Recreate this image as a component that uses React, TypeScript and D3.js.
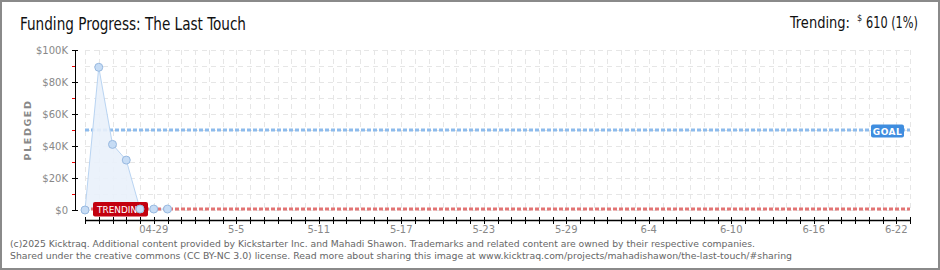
import React from "react";
import * as d3 from "d3";

const W = 940;
const H = 270;

const dates = ["2025-04-24", "2025-04-25", "2025-04-26", "2025-04-27", "2025-04-28", "2025-04-29", "2025-04-30"];
const pledged = [0, 89200, 41000, 31200, 600, 600, 610];
const goal = 50000;
const trending = 610;
const domainDates = ["2025-04-24", "2025-06-23"];
const xLabelDates = ["2025-04-29", "2025-05-05", "2025-05-11", "2025-05-17", "2025-05-23", "2025-05-29", "2025-06-04", "2025-06-10", "2025-06-16", "2025-06-22"];
const xLabels = ["04-29", "5-5", "5-11", "5-17", "5-23", "5-29", "6-4", "6-10", "6-16", "6-22"];
const yMajor = [0, 20000, 40000, 60000, 80000, 100000];
const yLabels = ["$0", "$20K", "$40K", "$60K", "$80K", "$100K"];
const yMinor = [10000, 30000, 50000, 70000, 90000];

const title = "Funding Progress: The Last Touch";
const footer1 = "(c)2025 Kicktraq. Additional content provided by Kickstarter Inc. and Mahadi Shawon. Trademarks and related content are owned by their respective companies.";
const footer2 = "Shared under the creative commons (CC BY-NC 3.0) license. Read more about sharing this image at www.kicktraq.com/projects/mahadishawon/the-last-touch/#sharing";

const parse = d3.utcParse("%Y-%m-%d");

export default function App() {
  const x = d3.scaleUtc().domain(domainDates.map((d) => parse(d)!)).range([85, 910]);
  const y = d3.scaleLinear().domain([0, 100000]).range([210, 50]);
  const days = d3.utcDay.range(parse(domainDates[0])!, d3.utcDay.offset(parse(domainDates[1])!, 1));
  const yGrid = d3.range(0, 100001, 10000);
  const pts = dates.map((d, i) => ({ d: parse(d)!, v: pledged[i] }));
  const area = d3.area<any>().x((p) => x(p.d)).y0(y(0)).y1((p) => y(p.v))(pts) || "";
  const line = d3.line<any>().x((p) => x(p.d)).y((p) => y(p.v))(pts) || "";
  const pix = "'DejaVu Sans', sans-serif";
  const head = "'Liberation Sans Narrow','DejaVu Sans Condensed',Roboto,sans-serif";
  const x0 = x.range()[0];
  const x1 = x.range()[1];

  return (
    <svg width={W} height={H} style={{ position: "absolute", left: 0, top: 0, background: "#fff" }}>
      <rect x={1} y={1} width={W - 2} height={H - 2} fill="#fff" stroke="#8a8a8a" strokeWidth={2} />
      <text x={20} y={30} fontFamily={head} fontWeight={300} fontSize={17} fill="#111" textLength={226} lengthAdjust="spacingAndGlyphs">{title}</text>
      <text x={790} y={28} fontFamily={head} fontWeight={300} fontSize={15.5} fill="#111" textLength={60} lengthAdjust="spacingAndGlyphs">Trending:</text>
      <text x={857} y={21} fontFamily={head} fontWeight={300} fontSize={9} fill="#111">$</text>
      <text x={866} y={28} fontFamily={head} fontWeight={300} fontSize={15.5} fill="#111" textLength={52} lengthAdjust="spacingAndGlyphs">610 (1%)</text>

      {/* grid */}
      {days.map((d, i) => (
        <line key={"vg" + i} x1={Math.round(x(d)) + 0.5} x2={Math.round(x(d)) + 0.5} y1={50} y2={210} stroke="#e6e6e6" strokeDasharray="5 4" />
      ))}
      {yGrid.map((v, i) => (
        <line key={"hg" + i} x1={x0} x2={x1} y1={y(v) + 0.5} y2={y(v) + 0.5} stroke="#e6e6e6" strokeDasharray="5 4" />
      ))}

      {/* y axis */}
      <line x1={75.5} x2={75.5} y1={50} y2={210} stroke="#000" />
      {yMajor.map((v, i) => (
        <g key={"ym" + i}>
          <line x1={72} x2={78} y1={y(v) + 0.5} y2={y(v) + 0.5} stroke="#000" />
          <text x={68} y={y(v) + 3.5} textAnchor="end" fontFamily={pix} fontSize={10} fill="#888">{yLabels[i]}</text>
        </g>
      ))}
      {yMinor.map((v, i) => (
        <line key={"yn" + i} x1={72} x2={75} y1={y(v) + 0.5} y2={y(v) + 0.5} stroke="#e00" />
      ))}
      <text transform="translate(31,130) rotate(-90)" textAnchor="middle" fontFamily={pix} fontSize={9.5} fontWeight="bold" fill="#888" letterSpacing={1.6}>PLEDGED</text>

      {/* x axis */}
      <line x1={x0} x2={x1} y1={220.5} y2={220.5} stroke="#000" strokeWidth={1.5} />
      {days.map((d, i) => (
        <line key={"xt" + i} x1={Math.round(x(d)) + 0.5} x2={Math.round(x(d)) + 0.5} y1={217} y2={224} stroke="#000" />
      ))}
      {xLabelDates.map((d, i) => (
        <text key={"xl" + i} x={x(parse(d)!)} y={233} textAnchor="middle" fontFamily={pix} fontSize={10} fill="#888">{xLabels[i]}</text>
      ))}

      {/* goal line */}
      <line x1={x0} x2={x1} y1={y(goal)} y2={y(goal)} stroke="#8dbbec" strokeWidth={3} strokeDasharray="4 2" />
      <rect x={871} y={124.5} width={33} height={13} rx={2} fill="#3f8ddf" />
      <text x={887.5} y={134.5} textAnchor="middle" fontFamily={pix} fontSize={9} fontWeight="bold" fill="#fff" letterSpacing={0.5}>GOAL</text>

      {/* data area */}
      <path d={area} fill="#e9f1fb" fillOpacity={0.9} />
      <path d={line} fill="none" stroke="#b9d4f2" strokeWidth={1} />

      {/* trending line */}
      <line x1={x0} x2={x1} y1={y(trending)} y2={y(trending)} stroke="#e27474" strokeWidth={3} strokeDasharray="4 2" />
      <rect x={93} y={202} width={55} height={14.5} rx={2} fill="#c3000f" />
      <text x={120.5} y={212.5} textAnchor="middle" fontFamily={pix} fontSize={8.5} fill="#fff" textLength={47} lengthAdjust="spacingAndGlyphs">TRENDING</text>

      {pts.map((p, i) => (
        <circle key={"pt" + i} cx={x(p.d)} cy={y(p.v)} r={4} fill="#c6dcf5" stroke="#98b9e0" strokeWidth={1} />
      ))}

      <text x={10} y={247} fontFamily="Tahoma,'DejaVu Sans',sans-serif" fontSize={9.5} fill="#666" textLength={745} lengthAdjust="spacingAndGlyphs">{footer1}</text>
      <text x={10} y={259} fontFamily="Tahoma,'DejaVu Sans',sans-serif" fontSize={9.5} fill="#666" textLength={782} lengthAdjust="spacingAndGlyphs">{footer2}</text>
    </svg>
  );
}
